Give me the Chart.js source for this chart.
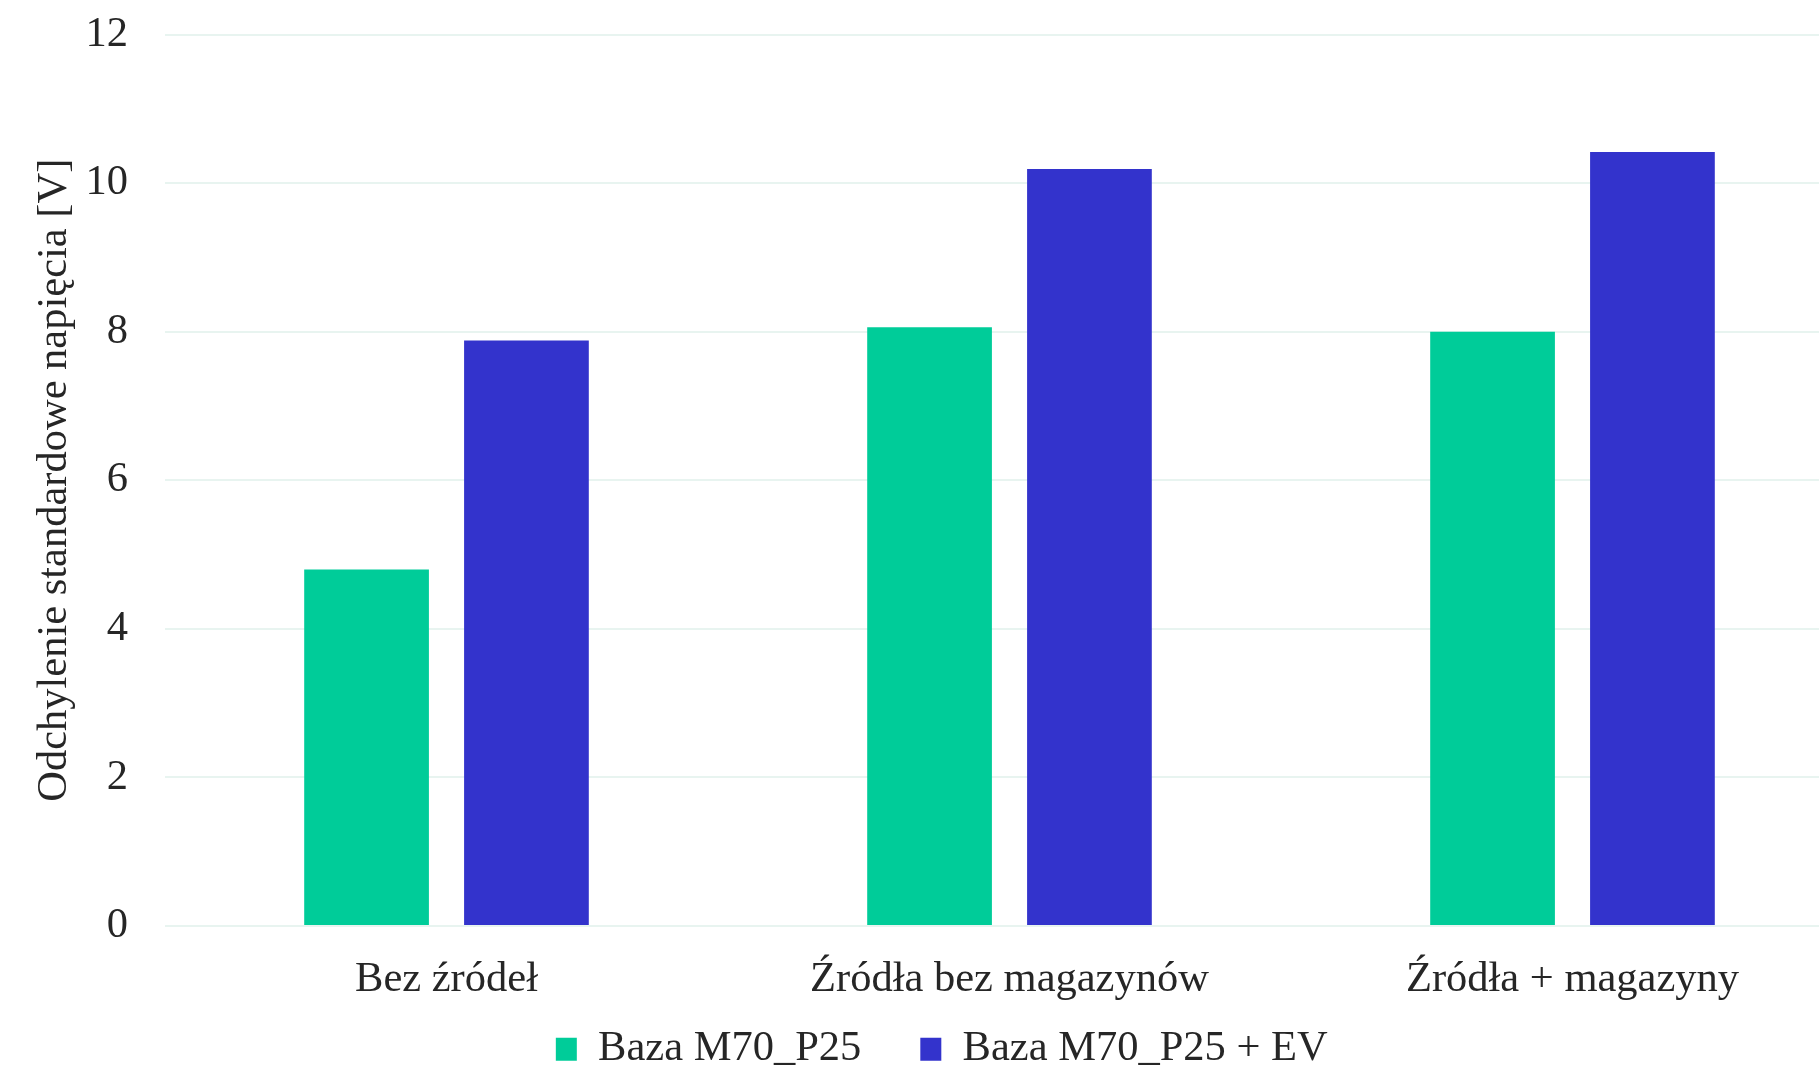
<!DOCTYPE html>
<html>
<head>
<meta charset="utf-8">
<script src="https://cdn.jsdelivr.net/npm/chart.js@4.4.1/dist/chart.umd.min.js"></script>
<style>
  html, body { margin: 0; padding: 0; background: #ffffff; overflow: hidden; }
  #wrap { position: absolute; left: 0; top: 0; width: 1890px; height: 1073px; }
</style>
</head>
<body>
<div id="wrap"><canvas id="c"></canvas></div>
<script>
const categories = ["Bez źródeł", "Źródła bez magazynów", "Źródła + magazyny"];
const seriesNames = ["Baza M70_P25", "Baza M70_P25 + EV"];
const baseValues = [4.80, 8.06, 8.00];
const evValues = [7.88, 10.19, 10.42];
const yTicks = [0, 2, 4, 6, 8, 10, 12];
const yTitle = "Odchylenie standardowe napięcia [V]";

const FONT = "'Liberation Serif', 'Times New Roman', serif";
const TXT = "#262626";
const FS = 42.5;

// move the legend closer to the axis labels while keeping wide item spacing
const legendShift = {
  id: 'legendShift',
  afterLayout(chart) {
    const lg = chart.legend;
    if (lg) { lg.top -= 37; lg.bottom -= 37; }
  }
};

new Chart(document.getElementById('c'), {
  type: 'bar',
  data: {
    labels: categories,
    datasets: [
      { label: seriesNames[0], data: baseValues, backgroundColor: '#00CC99', borderWidth: 0,
        categoryPercentage: 0.568, barPercentage: 0.78 },
      { label: seriesNames[1], data: evValues, backgroundColor: '#3333CC', borderWidth: 0,
        categoryPercentage: 0.568, barPercentage: 0.78 }
    ]
  },
  plugins: [legendShift],
  options: {
    responsive: true,
    maintainAspectRatio: false,
    animation: false,
    layout: { padding: { top: 34.5, right: 36, left: 29.5, bottom: -44.5 } },
    plugins: {
      legend: {
        position: 'bottom',
        labels: {
          font: { family: FONT, size: FS },
          color: TXT,
          boxWidth: 21,
          boxHeight: 23,
          padding: 59
        }
      },
      tooltip: { enabled: false }
    },
    scales: {
      x: {
        grid: { display: false, drawTicks: false },
        border: { display: false },
        ticks: { font: { family: FONT, size: FS }, color: TXT, padding: 28 },
        afterFit: (s) => { s.height = 80; s.paddingLeft = 0; s.paddingRight = 0; }
      },
      y: {
        min: 0, max: 12,
        afterBuildTicks: (axis) => { axis.ticks = yTicks.map(v => ({ value: v })); },
        grid: { color: '#e8f4f0', lineWidth: 2, drawTicks: false },
        border: { display: false },
        ticks: { font: { family: FONT, size: FS }, color: TXT, padding: 37 },
        title: { display: true, text: yTitle, font: { family: FONT, size: FS }, color: TXT, padding: { top: 0, bottom: 0 } },
        afterFit: (s) => { s.width = 135.5; s.paddingTop = 0; s.paddingBottom = 0; }
      }
    }
  }
});
</script>
</body>
</html>
